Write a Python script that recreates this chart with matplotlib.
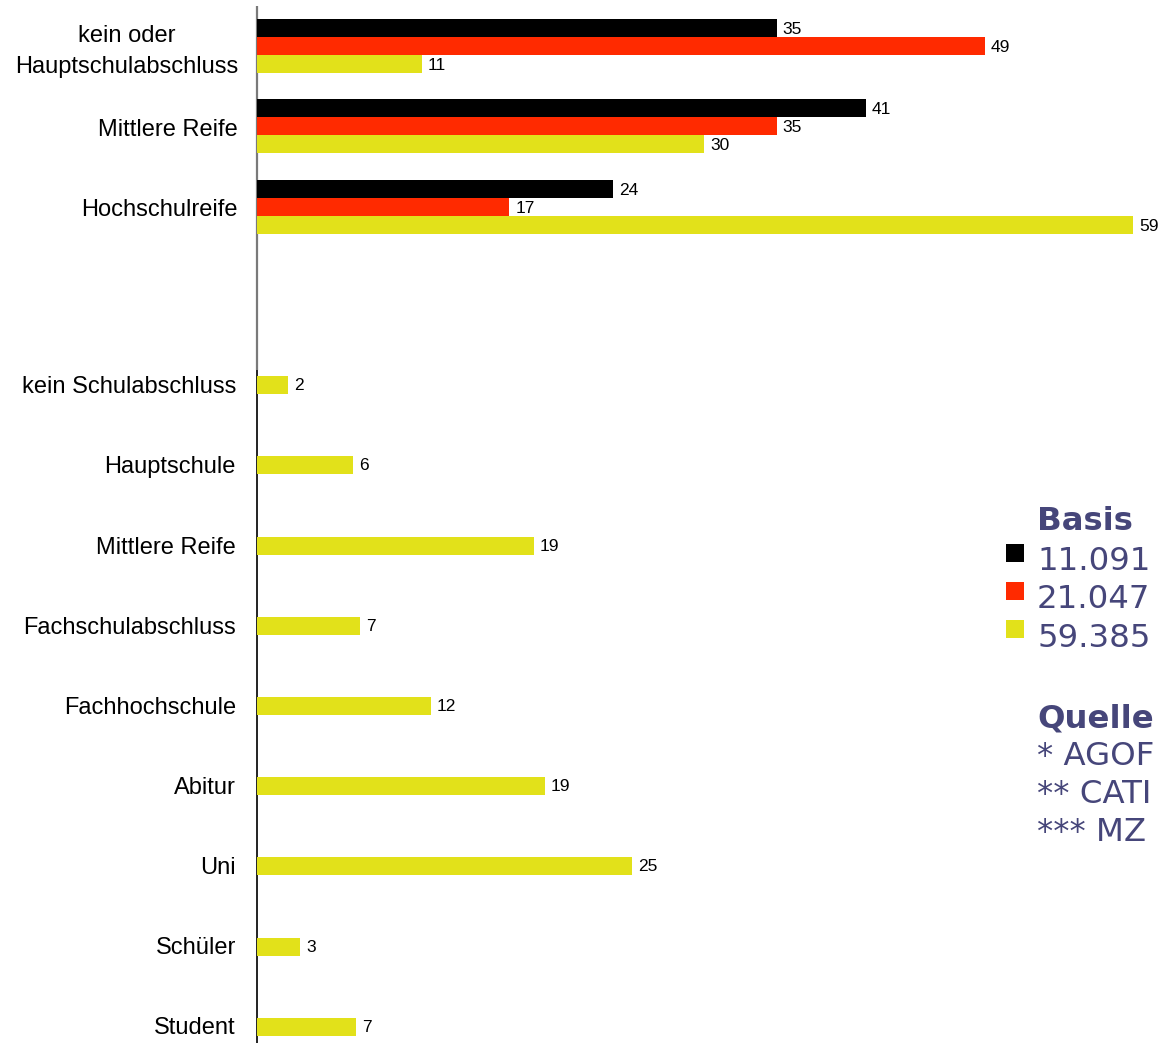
import matplotlib
matplotlib.use("Agg")
import matplotlib.pyplot as plt
from matplotlib.patches import Rectangle
from matplotlib.transforms import Affine2D

# ---------------- data ----------------
top_categories = ["kein oder\nHauptschulabschluss", "Mittlere Reife", "Hochschulreife"]
series_names = ["11.091", "21.047", "59.385"]
top_black = [35.0, 41.0, 24.0]
top_red = [49.0, 35.0, 17.0]
top_yellow = [11.1, 30.1, 59.0]

bottom_categories = ["kein Schulabschluss", "Hauptschule", "Mittlere Reife",
                     "Fachschulabschluss", "Fachhochschule", "Abitur", "Uni",
                     "Schüler", "Student"]
bottom_yellow = [2.1, 6.46, 18.65, 6.94, 11.72, 19.4, 25.25, 2.9, 6.67]

legend_title = "Basis"
source_title = "Quelle"
sources = ["* AGOF", "** CATI", "*** MZ"]

# ---------------- layout / style ----------------
W, H = 1160, 1043
DPI = 100
colors = ["#000000", "#FF2A00", "#E2E11A"]
text_blue = "#46467A"
x0_px = 257.0
px_per_unit = 14.85
bar_h = 18.0
top_centers = [46, 126, 207]           # pixel rows (y down)
bottom_centers = [385, 464.5, 545.5, 625.5, 705.5, 785.5, 865.5, 946.5, 1026.5]
PT = 72.0 / DPI                         # points per pixel

fig = plt.figure(figsize=(W / DPI, H / DPI), dpi=DPI)
ax = fig.add_axes([0, 0, 1, 1])
ax.set_xlim(-x0_px / px_per_unit, (W - x0_px) / px_per_unit)
ax.set_ylim(H, 0)
ax.axis("off")

# pixel transform (origin top-left, y down)
pix = Affine2D().scale(1.0 / W, -1.0 / H).translate(0, 1) + fig.transFigure

label_font = dict(family=["Liberation Sans", "DejaVu Sans"], fontsize=17, color="black")
value_font = dict(family=["Liberation Sans", "DejaVu Sans"], fontsize=12.5, color="black")

# axis line
ax.plot([x0_px, x0_px], [6, 370], transform=pix, color="#7a7a7a", lw=1.6, solid_capstyle="butt")
ax.plot([x0_px, x0_px], [370, H], transform=pix, color="#222222", lw=1.4, solid_capstyle="butt")

# top grouped bars
offsets = [-bar_h, 0.0, bar_h]
for series, col, off in zip([top_black, top_red, top_yellow], colors, offsets):
    ys = [c + off for c in top_centers]
    ax.barh(ys, series, height=bar_h, color=col, left=0, linewidth=0, zorder=2)
    for y, v in zip(ys, series):
        ax.annotate(f"{v:.0f}", xy=(v, y), xytext=(6 * PT, -1.5 * PT), textcoords="offset points",
                    ha="left", va="center", **value_font)

for cat, y in zip(top_categories, top_centers):
    yy = y + 5.5 if "\n" in cat else y + 3.5
    ax.text(238, yy, cat, transform=pix, ha="right", va="center",
            multialignment="center", linespacing=1.5, **label_font)

# bottom bars
ax.barh(bottom_centers, bottom_yellow, height=bar_h, color=colors[2], linewidth=0, zorder=2)
for y, v in zip(bottom_centers, bottom_yellow):
    ax.annotate(f"{v:.0f}", xy=(v, y), xytext=(6 * PT, -1.0 * PT), textcoords="offset points",
                ha="left", va="center", **value_font)
for cat, y in zip(bottom_categories, bottom_centers):
    ax.text(236, y + 2, cat, transform=pix, ha="right", va="center", **label_font)

# legend
leg_font = dict(family=["DejaVu Sans"], fontsize=23.3, color=text_blue)
ax.text(1037, 530, legend_title, transform=pix, ha="left", va="baseline",
        fontweight="bold", **leg_font)
sq_tops = [544, 582, 620]
base_lines = [570, 608, 647]
for name, col, top, bl in zip(series_names, colors, sq_tops, base_lines):
    ax.add_patch(Rectangle((1006, top), 18, 18, transform=pix, facecolor=col,
                           edgecolor="none", clip_on=False))
    ax.text(1037, bl, name, transform=pix, ha="left", va="baseline", **leg_font)

ax.text(1037, 728, source_title, transform=pix, ha="left", va="baseline",
        fontweight="bold", **leg_font)
for s, bl in zip(sources, [765, 803, 841]):
    ax.text(1037, bl, s, transform=pix, ha="left", va="baseline", **leg_font)

fig.savefig("out.png", dpi=DPI)
